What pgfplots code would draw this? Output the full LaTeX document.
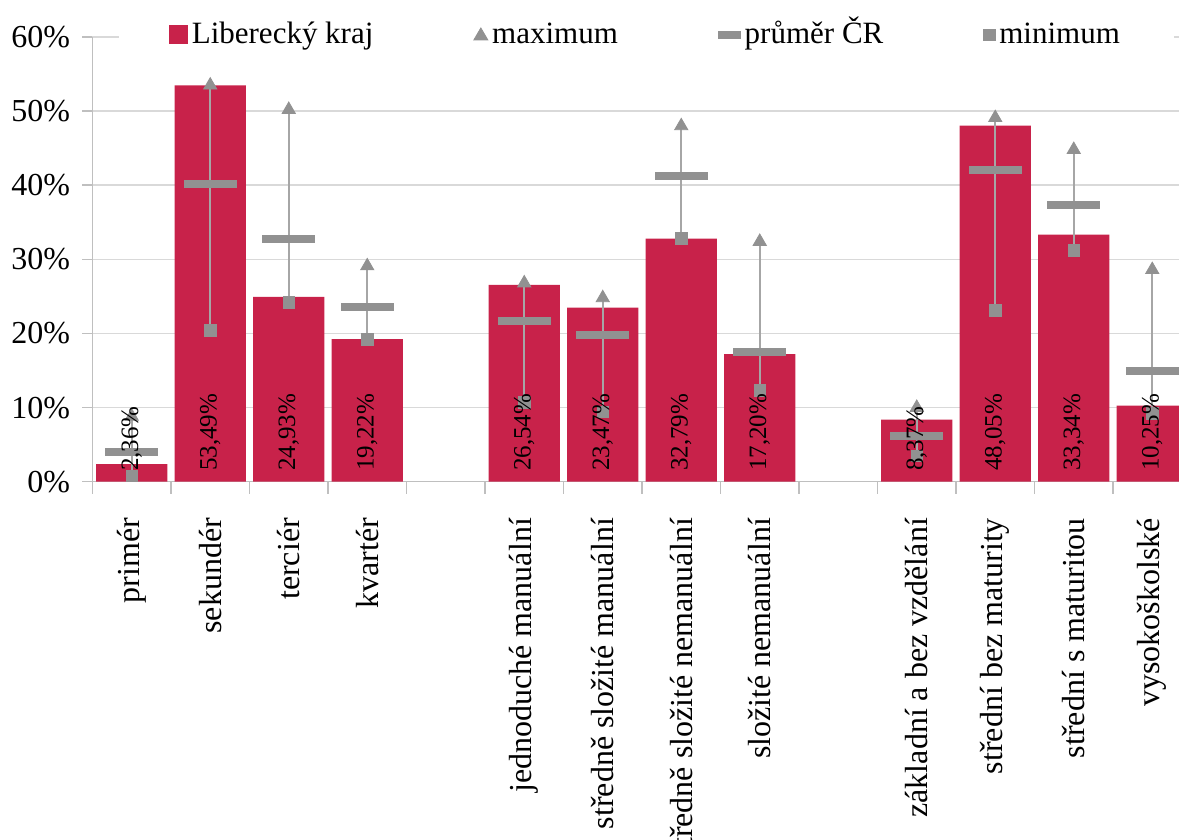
\documentclass[border=0pt]{standalone}
\usepackage{fontspec}
\setmainfont{Liberation Serif}
\usepackage{pgfplots}
\usepackage{pgfplotstable}
\pgfplotsset{compat=1.18}
\definecolor{barred}{RGB}{200,34,74}
\definecolor{mkgray}{RGB}{145,145,145}
\definecolor{lngray}{RGB}{166,166,166}
\definecolor{grd}{RGB}{217,217,217}
\definecolor{axg}{RGB}{191,191,191}
\pgfdeclareplotmark{avgbar}{\pgfpathrectangle{\pgfpoint{-13.25pt}{-2pt}}{\pgfpoint{26.5pt}{4pt}}\pgfusepathqfill}

\pgfplotstableread{
x bar avg max min lab
0 2.36 4.0 8.8 0.8 2,36
1 53.49 40.1 53.49 20.4 53,49
2 24.93 32.8 50.2 24.2 24,93
3 19.22 23.6 29.1 19.22 19,22
5 26.54 21.7 26.8 10.7 26,54
6 23.47 19.8 24.8 9.4 23,47
7 32.79 41.2 48.0 32.79 32,79
8 17.20 17.5 32.4 12.3 17,20
10 8.37 6.1 10.0 3.5 8,37
11 48.05 42.0 49.1 23.1 48,05
12 33.34 37.4 44.8 31.2 33,34
13 10.25 15.0 28.6 9.2 10,25
}\data

\begin{document}
\begin{tikzpicture}
\useasboundingbox (0,0) rectangle (589.5pt,420pt);
\begin{axis}[
 at={(46.25pt,179.15pt)}, anchor=south west,
 scale only axis, width=549.5pt, height=222.35pt,
 xmin=-0.5, xmax=13.5, ymin=0, ymax=60,
 axis x line*=bottom, axis y line*=left,
 axis line style={axg, line width=0.75pt},
 ytick={0,10,...,60},
 yticklabels={0\%,10\%,20\%,30\%,40\%,50\%,60\%},
 ymajorgrids, grid style={grd, line width=0.75pt},
 xtick={0,...,13},
 xticklabels={primér,sekundér,terciér,kvartér,,jednoduché manuální,středně složité manuální,středně složité nemanuální,složité nemanuální,,základní a bez vzdělání,střední bez maturity,střední s maturitou,vysokoškolské},
 minor xtick={-0.5,0.5,...,13.5},
 major x tick style={draw=none},
 tick align=outside, major tick length=5pt, minor tick length=6pt,
 tick style={axg, line width=0.75pt},
 ticklabel style={font=\fontsize{16}{19}\selectfont, text=black},
 xticklabel style={yshift=-13pt, rotate=90, anchor=east, inner sep=0pt},
 yticklabel style={anchor=east, inner sep=0pt, xshift=-6pt},
 legend style={at={(0.504,1.005)}, anchor=center, draw=none, fill=white,
   legend columns=4, font=\fontsize{15.5}{18}\selectfont, inner xsep=25pt,
   cells={text height=10.5pt, text depth=3pt},
   /tikz/every even column/.append style={column sep=48pt}},
 clip=false,
]
\addplot[ybar, bar width=0.91, fill=barred, draw=none,
  legend image code/.code={\fill[barred] (0pt,-4.75pt) rectangle (9.5pt,4.75pt);}]
  table[x=x,y=bar]{\data};
\addlegendentry{Liberecký kraj}
\addplot[forget plot, draw=none, mark=none,
  error bars/.cd, y dir=plus, y explicit, error mark=none,
  error bar style={draw=lngray, line width=0.9pt}]
  table[x=x, y=min, y error plus expr=\thisrow{max}-\thisrow{min}]{\data};
\addplot[only marks, mark=triangle*, mark size=3.8pt, color=mkgray,
  legend image code/.code={\fill[mkgray] (0pt,-2.6pt) -- (7pt,-2.6pt) -- (3.5pt,3.4pt) -- cycle;}]
  table[x=x,y=max]{\data};
\addlegendentry{maximum}
\addplot[only marks, mark=avgbar, color=mkgray,
  legend image code/.code={\fill[mkgray] (0pt,-1.6pt) rectangle (11pt,1.6pt);}]
  table[x=x,y=avg]{\data};
\addlegendentry{průměr ČR}
\addplot[only marks, mark=square*, mark size=2.9pt, color=mkgray,
  legend image code/.code={\fill[mkgray] (0pt,-2.8pt) rectangle (5.6pt,2.8pt);}]
  table[x=x,y=min]{\data};
\addlegendentry{minimum}
\addplot[forget plot, draw=none, mark=none,
  nodes near coords={\pgfplotspointmeta\%}, point meta=explicit symbolic,
  nodes near coords style={rotate=90, anchor=west, inner sep=0pt, font=\fontsize{12.5}{15}\selectfont, text=black}]
  table[x=x, y expr=1.4, meta=lab]{\data};
\end{axis}
\end{tikzpicture}
\end{document}
